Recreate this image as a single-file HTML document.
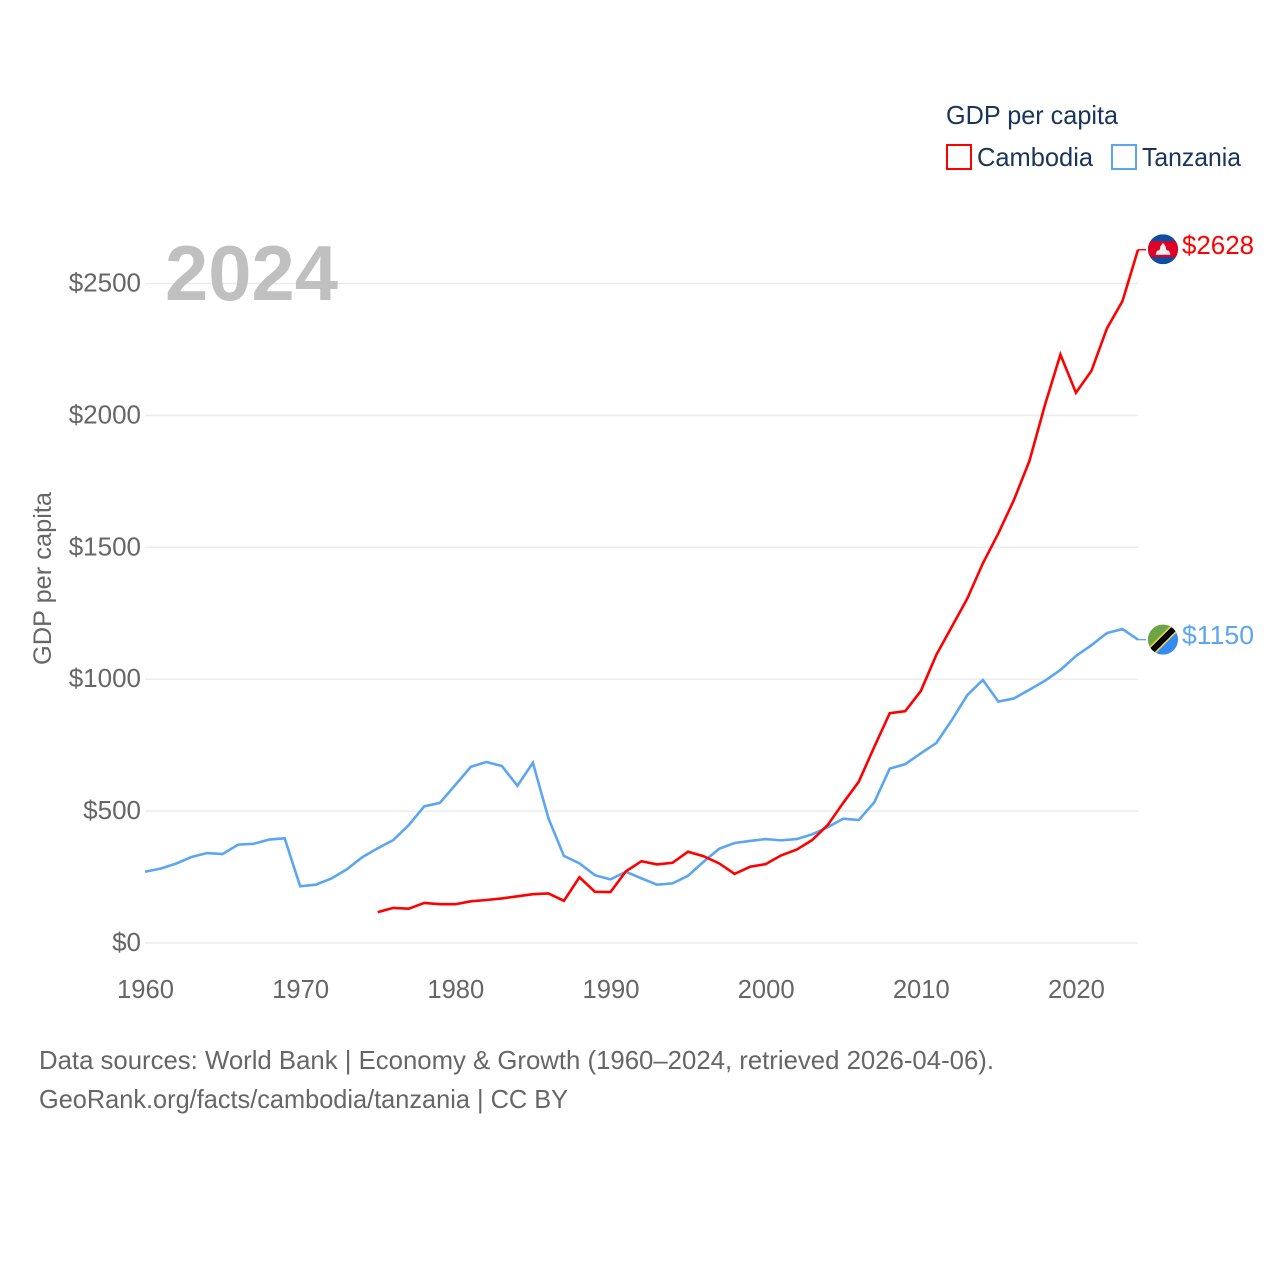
<!DOCTYPE html>
<html lang="en">
<head>
<meta charset="utf-8">
<title>GDP per capita: Cambodia and Tanzania</title>
<style>
  html, body { margin: 0; padding: 0; background: #fff; }
  svg { display: block; font-family: "Liberation Sans", sans-serif; }
</style>
</head>
<body>
<svg id="chart" xmlns="http://www.w3.org/2000/svg" width="1280" height="1280" viewBox="0 0 1280 1280">
  <rect x="0" y="0" width="1280" height="1280" fill="#ffffff"/>
  <g id="grid"></g>
  <text x="165" y="300" font-size="78" font-weight="700" fill="#c0c0c0" textLength="173" lengthAdjust="spacingAndGlyphs">2024</text>
  <g id="y-ticks"></g>
  <g id="x-ticks"></g>
  <text transform="translate(51,665) rotate(-90)" font-size="25" fill="#666666" textLength="173" lengthAdjust="spacingAndGlyphs">GDP per capita</text>
  <g id="series"></g>
  <g id="end-labels"></g>

  <g>
    <text x="946" y="124" font-size="26" fill="#1a3557" textLength="172" lengthAdjust="spacingAndGlyphs">GDP per capita</text>
    <rect x="947" y="145" width="24" height="24" fill="none" stroke="#ff0000" stroke-width="2"/>
    <text x="977" y="166" font-size="26" fill="#1a3557" textLength="116" lengthAdjust="spacingAndGlyphs">Cambodia</text>
    <rect x="1112" y="145" width="24" height="24" fill="none" stroke="#5ba6ef" stroke-width="2"/>
    <text x="1142" y="166" font-size="26" fill="#1a3557" textLength="99" lengthAdjust="spacingAndGlyphs">Tanzania</text>
  </g>

  <text x="39" y="1069" font-size="26" fill="#666666" textLength="955" lengthAdjust="spacingAndGlyphs">Data sources: World Bank | Economy &amp; Growth (1960–2024, retrieved 2026-04-06).</text>
  <text x="39" y="1108" font-size="26" fill="#666666" textLength="529" lengthAdjust="spacingAndGlyphs">GeoRank.org/facts/cambodia/tanzania | CC BY</text>
</svg>

<script>
const yTickValues = [0, 500, 1000, 1500, 2000, 2500];
const xTickYears = [1960, 1970, 1980, 1990, 2000, 2010, 2020];
const tanzaniaStartYear = 1960;
const tanzaniaValues = [270, 282, 301, 326, 341, 337, 373, 376, 392, 397,
  215, 221, 244, 279, 325, 359, 390, 447, 518, 531,
  599, 668, 686, 671, 596, 683, 473, 330, 302, 257,
  241, 270, 245, 221, 226, 255, 308, 357, 379, 387,
  394, 389, 394, 412, 439, 471, 466, 533, 661, 678,
  719, 758, 845, 940, 997, 915, 927, 960, 994, 1035,
  1088, 1129, 1175, 1190, 1150];
const cambodiaStartYear = 1975;
const cambodiaValues = [117, 133, 130, 152, 147,
  147, 158, 163, 169, 177, 185, 188, 160, 249, 194,
  193, 272, 310, 298, 304, 346, 329, 302, 262, 289,
  299, 332, 354, 390, 447, 531, 611, 743, 871, 879,
  955, 1092, 1199, 1306, 1439, 1553, 1679, 1827, 2039, 2231,
  2086, 2169, 2330, 2433, 2628];
const cambodiaEndLabel = "$2628";
const tanzaniaEndLabel = "$1150";

const NS = "http://www.w3.org/2000/svg";
function xScale(year) { return 145 + (year - 1960) * (1138 - 145) / 64; }
function yScale(value) { return 943 - value * 659.5 / 2500; }
function make(tag, attrs, parent) {
  const el = document.createElementNS(NS, tag);
  for (const k in attrs) el.setAttribute(k, attrs[k]);
  parent.appendChild(el);
  return el;
}

const gridGroup = document.getElementById("grid");
const yTickGroup = document.getElementById("y-ticks");
const xTickGroup = document.getElementById("x-ticks");
const seriesGroup = document.getElementById("series");
const endGroup = document.getElementById("end-labels");

yTickValues.forEach(function (v) {
  const line = make("line", { x1: 145, x2: 1138, y1: yScale(v), y2: yScale(v), stroke: "#ececec", "stroke-width": 1.5 }, gridGroup);
  
  
  const label = make("text", { x: 141, y: yScale(v) + 8, "text-anchor": "end", "font-size": 26, fill: "#666666" }, yTickGroup);
  
  
  label.textContent = "$" + v;
});

xTickYears.forEach(function (yr) {
  const label = make("text", { x: xScale(yr) + 0.5, y: 998, "text-anchor": "middle", "font-size": 25.6, fill: "#666666" }, xTickGroup);
  
  
  label.textContent = yr;
});

function linePoints(startYear, values) {
  return values.map(function (v, i) {
    return xScale(startYear + i).toFixed(2) + "," + yScale(v).toFixed(2);
  }).join(" ");
}

const tanzaniaLine = make("polyline", { points: linePoints(tanzaniaStartYear, tanzaniaValues), fill: "none", stroke: "#5ba6ef", "stroke-width": 2.6, "stroke-linejoin": "miter" }, seriesGroup);



const cambodiaLine = make("polyline", { points: linePoints(cambodiaStartYear, cambodiaValues), fill: "none", stroke: "#ff0000", "stroke-width": 2.6, "stroke-linejoin": "miter" }, seriesGroup);



/* End-of-line leaders, flags and value labels */
const cambodiaY = yScale(cambodiaValues[cambodiaValues.length - 1]);
const tanzaniaY = yScale(tanzaniaValues[tanzaniaValues.length - 1]);

const cambodiaLeader = make("line", { x1: 1138, x2: 1146, y1: cambodiaY, y2: cambodiaY, stroke: "#ff0000", "stroke-width": 1.4 }, endGroup);



const tanzaniaLeader = make("line", { x1: 1138, x2: 1146, y1: tanzaniaY, y2: tanzaniaY, stroke: "#5ba6ef", "stroke-width": 1.4 }, endGroup);



const defs = make("defs", {}, endGroup);
const clipA = make("clipPath", { id: "flag-clip-a" }, defs);
make("circle", { cx: 0, cy: 0, r: 15 }, clipA);

const khFlag = make("g", { transform: "translate(1163," + (cambodiaY - 0.5) + ")", "clip-path": "url(#flag-clip-a)" }, endGroup);


make("rect", { x: -15, y: -15, width: 30, height: 30, fill: "#0b4ea2" }, khFlag);
make("rect", { x: -15, y: -8, width: 30, height: 16, fill: "#e00025" }, khFlag);
make("polygon", { points: "-7.5,5.5 -6,1.5 -3.5,1 -2.5,-3 0,-6.5 2.5,-3 3.5,1 6,1.5 7.5,5.5", fill: "#f2f2f2" }, khFlag);

const tzFlag = make("g", { transform: "translate(1163," + tanzaniaY + ")", "clip-path": "url(#flag-clip-a)" }, endGroup);


make("rect", { x: -15, y: -15, width: 30, height: 30, fill: "#338af3" }, tzFlag);
make("polygon", { points: "-15,-15 15,-15 -15,15", fill: "#6da544" }, tzFlag);
make("line", { x1: -15, y1: 15, x2: 15, y2: -15, stroke: "#ffda44", "stroke-width": 9 }, tzFlag);
make("line", { x1: -15, y1: 15, x2: 15, y2: -15, stroke: "#000000", "stroke-width": 6 }, tzFlag);

const cambodiaLabel = make("text", { x: 1182, y: cambodiaY + 4.5, "font-size": 26, fill: "#ff0000", textLength: 72, lengthAdjust: "spacingAndGlyphs" }, endGroup);


cambodiaLabel.textContent = cambodiaEndLabel;

const tanzaniaLabel = make("text", { x: 1182, y: tanzaniaY + 4.5, "font-size": 26, fill: "#5ba6ef", textLength: 72, lengthAdjust: "spacingAndGlyphs" }, endGroup);


tanzaniaLabel.textContent = tanzaniaEndLabel;
</script>
</body>
</html>
